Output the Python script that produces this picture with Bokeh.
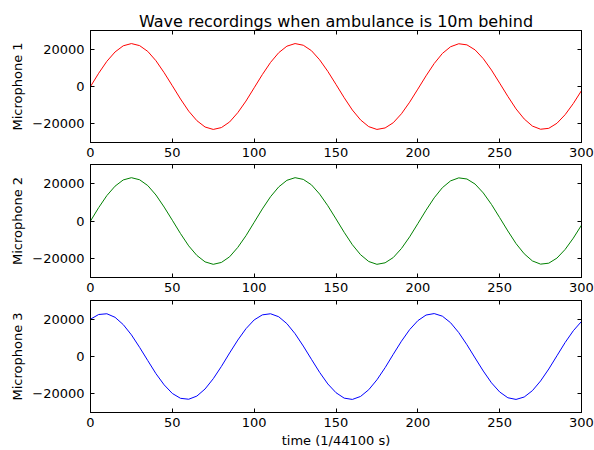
from bokeh.plotting import figure
from bokeh.layouts import column
from bokeh.models import Range1d, LinearAxis, FixedTicker
from bokeh.embed import file_html
from bokeh.resources import INLINE

# sample index (1/44100 s)
t = list(range(0, 301, 5))

mic1 = [0, 7100, 13500, 18500, 21800, 23000, 21900, 18800, 13800, 7400,
        400, -6700, -13200, -18300, -21700, -23000, -22000, -19000, -14000, -7800,
        -700, 6400, 12900, 18100, 21600, 23000, 22100, 19200, 14300, 8100,
        1100, -6000, -12600, -17900, -21500, -23000, -22200, -19400, -14600, -8400,
        -1400, 5700, 12300, 17700, 21300, 22900, 22300, 19600, 14900, 8800,
        1800, -5300, -12000, -17400, -21200, -22900, -22400, -19700, -15100, -9100,
        -2200]

mic2 = [0, 7100, 13500, 18500, 21800, 23000, 21900, 18800, 13800, 7400,
        400, -6700, -13200, -18300, -21700, -23000, -22000, -19000, -14000, -7800,
        -700, 6400, 12900, 18100, 21600, 23000, 22100, 19200, 14300, 8100,
        1100, -6000, -12600, -17900, -21500, -23000, -22200, -19400, -14600, -8400,
        -1400, 5700, 12300, 17700, 21300, 22900, 22300, 19600, 14900, 8800,
        1800, -5300, -12000, -17400, -21200, -22900, -22400, -19700, -15100, -9100,
        -2200]

mic3 = [20000, 22500, 22900, 21000, 17100, 11600, 4900, -2200, -9200, -15200,
        -19800, -22400, -22900, -21200, -17400, -11900, -5300, 1900, 8800, 14900,
        19600, 22300, 22900, 21300, 17600, 12200, 5600, -1500, -8500, -14700,
        -19400, -22300, -23000, -21400, -17800, -12500, -6000, 1200, 8200, 14400,
        19200, 22200, 23000, 21600, 18100, 12800, 6300, -800, -7800, -14100,
        -19000, -22100, -23000, -21700, -18300, -13100, -6700, 400, 7500, 13800,
        18800]

x_ticks = [0, 50, 100, 150, 200, 250, 300]
y_ticks = [-20000, 0, 20000]
y_tick_labels = {-20000: "\u221220000", 0: "0", 20000: "20000"}
title_text = "Wave recordings when ambulance is 10m behind"
y_labels = ["Microphone 1", "Microphone 2", "Microphone 3"]
x_label = "time (1/44100 s)"
colors = ["#ff0000", "#008000", "#0000ff"]
series = [mic1, mic2, mic3]

FONT = "DejaVu Sans"


def style_axis(ax, show_labels=True, tick_standoff=5, label_standoff=4):
    ax.major_tick_in = 4
    ax.major_tick_out = 0
    ax.minor_tick_line_color = None
    ax.major_tick_line_color = "black"
    ax.axis_line_color = "black"
    ax.major_label_text_font = FONT
    ax.axis_label_text_font = FONT
    ax.axis_label_text_font_style = "normal"
    ax.axis_label_text_font_size = "13px"
    ax.axis_label_text_color = "black"
    if show_labels:
        ax.major_label_text_color = "black"
        ax.major_label_text_font_size = "13px"
        ax.major_label_standoff = tick_standoff
        ax.axis_label_standoff = label_standoff
    else:
        # tick marks only (matplotlib-style ticks on every side)
        ax.major_label_text_color = None
        ax.major_label_text_font_size = "1px"
        ax.major_label_standoff = 0
        ax.axis_label_standoff = 0


def make(i, height, top, bottom, title=None, xlab=None):
    p = figure(width=594, height=height,
               x_range=Range1d(0, 300), y_range=Range1d(-30000, 30000),
               output_backend="svg", toolbar_location=None,
               min_border_left=90, min_border_right=13,
               min_border_top=top, min_border_bottom=bottom)
    p.xgrid.visible = False
    p.ygrid.visible = False
    p.outline_line_color = "black"
    p.background_fill_color = "white"
    p.border_fill_color = "white"
    p.xaxis.ticker = FixedTicker(ticks=x_ticks)
    p.yaxis.ticker = FixedTicker(ticks=y_ticks)
    p.yaxis.major_label_overrides = y_tick_labels
    p.yaxis.axis_label = y_labels[i]
    if xlab:
        p.xaxis.axis_label = xlab
    for ax in p.xaxis:
        style_axis(ax, tick_standoff=5, label_standoff=3)
    for ax in p.yaxis:
        style_axis(ax, tick_standoff=6, label_standoff=4)
    above = LinearAxis(ticker=FixedTicker(ticks=x_ticks))
    style_axis(above, show_labels=False)
    p.add_layout(above, "above")
    right = LinearAxis(ticker=FixedTicker(ticks=y_ticks))
    style_axis(right, show_labels=False)
    p.add_layout(right, "right")
    if title:
        p.title.text = title
        p.title.text_font = FONT
        p.title.text_font_size = "16px"
        p.title.text_font_style = "normal"
        p.title.text_color = "black"
        p.title.align = "center"
        p.title.standoff = 0
    p.line(t, series[i], line_color=colors[i], line_width=1)
    return p


p1 = make(0, 164, 30, 22, title=title_text)
p2 = make(1, 136, 0, 23)
p3 = make(2, 150, 0, 38, xlab=x_label)

layout = column(p1, p2, p3, spacing=0)
open("out.html", "w").write(file_html(layout, INLINE))
